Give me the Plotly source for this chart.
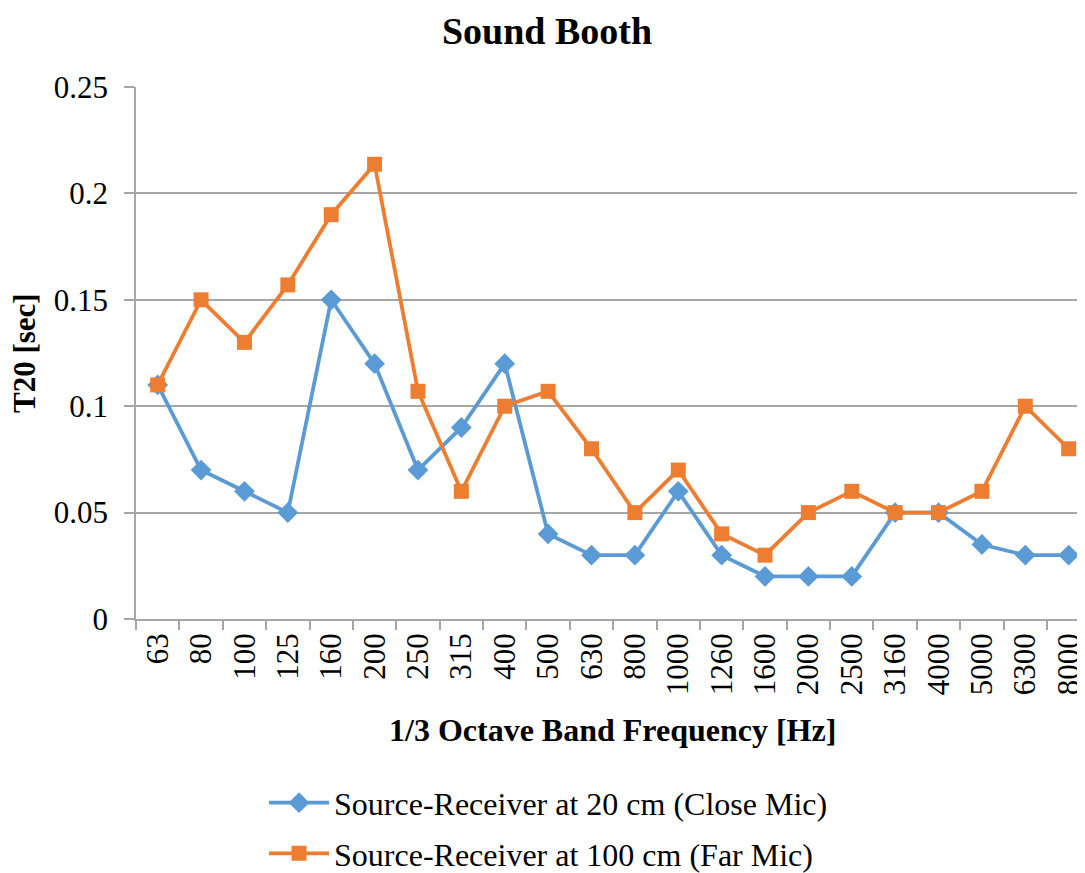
import plotly.graph_objects as go

frequencies = ["63", "80", "100", "125", "160", "200", "250", "315", "400", "500", "630",
               "800", "1000", "1260", "1600", "2000", "2500", "3160", "4000", "5000", "6300", "8000"]
close_mic = [0.11, 0.07, 0.06, 0.05, 0.15, 0.12, 0.07, 0.09, 0.12, 0.04, 0.03,
             0.03, 0.06, 0.03, 0.02, 0.02, 0.02, 0.05, 0.05, 0.035, 0.03, 0.03]
far_mic = [0.11, 0.15, 0.13, 0.157, 0.19, 0.2137, 0.107, 0.06, 0.10, 0.107, 0.08,
           0.05, 0.07, 0.04, 0.03, 0.05, 0.06, 0.05, 0.05, 0.06, 0.10, 0.08]

FONT = "Liberation Serif, Times New Roman, serif"
BLUE = "#5B9BD5"
ORANGE = "#ED7D31"
GRID = "#A6A6A6"

fig = go.Figure()
fig.add_trace(go.Scatter(
    x=frequencies, y=close_mic, mode="lines+markers",
    name="Source-Receiver at 20 cm (Close Mic)", legendgroup="a",
    line=dict(color=BLUE, width=3.8),
    marker=dict(symbol="diamond", size=16, color=BLUE),
))
fig.add_trace(go.Scatter(
    x=frequencies, y=far_mic, mode="lines+markers",
    name="Source-Receiver at 100 cm (Far Mic)", legendgroup="b",
    line=dict(color=ORANGE, width=3.8),
    marker=dict(symbol="square", size=15, color=ORANGE),
))

fig.update_layout(
    width=1077, height=865,
    margin=dict(l=128, r=0, t=79, b=254, autoexpand=False),
    paper_bgcolor="white", plot_bgcolor="white",
    font=dict(family=FONT, color="black", size=30),
    title=dict(text="<b>Sound Booth</b>", x=539 / 1077, xref="container", xanchor="center",
               y=1 - 23 / 865, yref="container", yanchor="middle",
               font=dict(family=FONT, size=38, color="black")),
    showlegend=True,
    legend=dict(x=0.1349, xanchor="left", y=-0.294, yanchor="top",
                yref="paper", orientation="v", tracegroupgap=6,
                font=dict(family=FONT, size=32, color="black"),
                itemwidth=60, bgcolor="rgba(0,0,0,0)"),
    xaxis=dict(
        type="category", range=[-0.5, 21.376], tickson="boundaries",
        ticks="outside", ticklen=9, tickcolor=GRID, tickwidth=1.5,
        showline=True, linecolor=GRID, linewidth=1.5,
        showgrid=False, tickangle=-90,
        tickfont=dict(family=FONT, size=31, color="black"),
        automargin=False,
    ),
    yaxis=dict(
        range=[0, 0.25], dtick=0.05, tick0=0,
        ticks="outside", ticklen=10, tickcolor=GRID, tickwidth=1.5,
        showline=True, linecolor=GRID, linewidth=1.5,
        showgrid=True, gridcolor=GRID, gridwidth=1.5,
        zeroline=False, ticklabelstandoff=10,
        tickfont=dict(family=FONT, size=31, color="black"),
        automargin=False,
    ),
    annotations=[
        dict(text="<b>1/3 Octave Band Frequency [Hz]</b>", xref="paper", yref="paper",
             x=(612 - 136) / 949, y=(619 - 730) / 532, xanchor="center", yanchor="middle",
             showarrow=False, font=dict(family=FONT, size=32, color="black")),
        dict(text="<b>T20 [sec]</b>", xref="paper", yref="paper",
             x=(24 - 136) / 949, y=0.5, xanchor="center", yanchor="middle",
             textangle=-90, showarrow=False, font=dict(family=FONT, size=31, color="black")),
    ],
)

fig.write_html("out.html")
